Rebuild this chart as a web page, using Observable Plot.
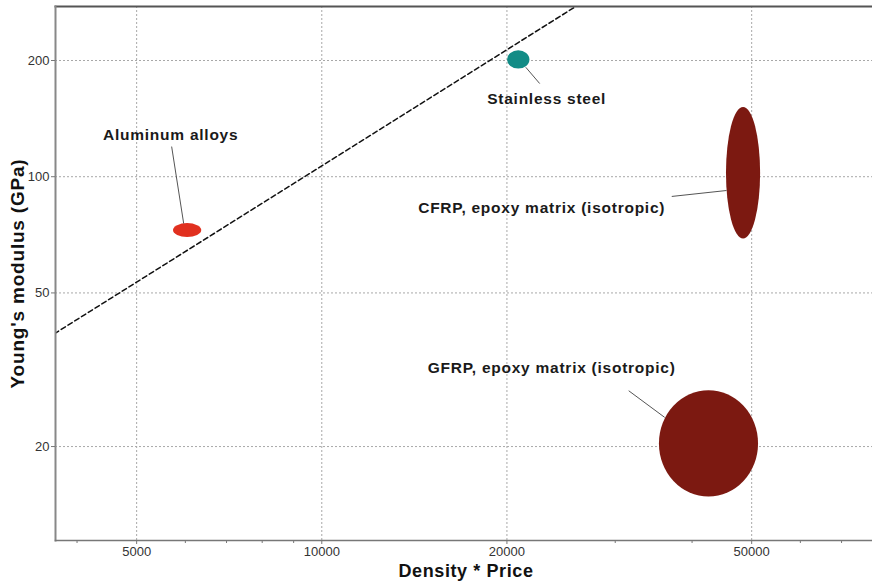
<!DOCTYPE html>
<html>
<head>
<meta charset="utf-8">
<script src="https://cdn.jsdelivr.net/npm/d3@7"></script>
<script src="https://cdn.jsdelivr.net/npm/@observablehq/plot@0.6"></script>
<style>
  html, body { margin: 0; padding: 0; background: #fff; }
</style>
</head>
<body>
<div id="chart"></div>
<script>
// Material property bubbles: ranges of density*price (x) and Young's modulus (y)
const materials = [
  "Aluminum alloys",
  "Stainless steel",
  "CFRP, epoxy matrix (isotropic)",
  "GFRP, epoxy matrix (isotropic)"
];
const densityPriceMin = [5740, 20050, 45500, 35400];
const densityPriceMax = [6380, 21800, 51700, 51300];
const modulusMin = [69.6, 190, 69, 14.8];
const modulusMax = [75.6, 212, 151, 27.9];
const materialColors = ["#e1301f", "#128c86", "#7c1911", "#7c1911"];

// Annotation anchors and leader lines, in data units
const labelX = [5680, 23210, 22780, 23650];
const labelY = [128, 159.4, 83.2, 32.0];
const leaderX1 = [5700, 22610, 37070, 31550];
const leaderY1 = [119.7, 174.3, 88.9, 27.9];
const leaderX2 = [5963, 21460, 45510, 36100];
const leaderY2 = [75.6, 192.1, 92.1, 23.8];

// Selection guideline: E = c * (density * price)
const guideX = [3000, 30000];
const guideY = [32, 320];

// Axis ticks
const xTicks = [5000, 10000, 20000, 50000];
const xMinorTicks = [4000, 6000, 7000, 8000, 9000, 30000, 40000, 60000, 70000];
const yTicks = [20, 50, 100, 200];

const rows = materials.map((name, i) => ({
  name,
  x1: densityPriceMin[i], x2: densityPriceMax[i],
  y1: modulusMin[i], y2: modulusMax[i],
  color: materialColors[i],
  lx: labelX[i], ly: labelY[i],
  ax: leaderX1[i], ay: leaderY1[i], bx: leaderX2[i], by: leaderY2[i]
}));
const guide = guideX.map((x, i) => ({x, y: guideY[i]}));

const font = "'Liberation Sans', Arial, Helvetica, sans-serif";

const chart = Plot.plot({
  width: 872,
  height: 584,
  marginLeft: 55,
  marginRight: 0,
  marginTop: 6,
  marginBottom: 44,
  style: {fontFamily: font, fontSize: "13px", color: "#333", background: "#fff"},
  x: {type: "log", domain: [3690, 78600]},
  y: {type: "log", domain: [11.42, 276]},
  marks: [
    Plot.gridX(xTicks, {stroke: "#a8a8a8", strokeOpacity: 1, strokeDasharray: "2,2"}),
    Plot.gridY(yTicks, {stroke: "#a8a8a8", strokeOpacity: 1, strokeDasharray: "2,2"}),
    Plot.line(guide, {x: "x", y: "y", stroke: "#111", strokeWidth: 1.5, strokeDasharray: "5,3", clip: true}),
    Plot.rect(rows, {x1: "x1", x2: "x2", y1: "y1", y2: "y2", fill: "color", rx: 10000, ry: 10000}),
    Plot.link(rows, {x1: "ax", y1: "ay", x2: "bx", y2: "by", stroke: "#555", strokeWidth: 1}),
    Plot.text(rows, {x: "lx", y: "ly", text: "name", fontWeight: "bold", fontSize: 15.5, fill: "#1a1a1a"}),
    Plot.frame({anchor: "top", stroke: "#555", strokeWidth: 2}),
    Plot.frame({anchor: "left", stroke: "#888", strokeWidth: 2}),
    Plot.frame({anchor: "bottom", stroke: "#777", strokeWidth: 1.5}),
    Plot.axisX(xMinorTicks, {tickSize: 3, text: null, label: null, stroke: "#777"}),
    Plot.axisX(xTicks, {tickSize: 4, tickPadding: 2, tickFormat: d3.format("d"), label: null, stroke: "#777", fill: "#333"}),
    Plot.axisY(yTicks, {tickSize: 4, tickPadding: 2, tickFormat: d3.format("d"), label: null, stroke: "#777", fill: "#333"}),
    Plot.text(["Density * Price"], {frameAnchor: "bottom", lineAnchor: "middle", dx: 2, dy: 31, fontWeight: "bold", fontSize: 18, fill: "#111"}),
    Plot.text(["Young's modulus (GPa)"], {frameAnchor: "left", textAnchor: "middle", lineAnchor: "middle", dx: -38, dy: 0, rotate: -90, fontWeight: "bold", fontSize: 19, fill: "#111"})
  ]
});

// Slightly wider tracking for the annotation and axis-title text
const textGroups = chart.querySelectorAll('g[aria-label="text"]');
const tracking = ["0.75px", "0.6px", "0.8px"];
textGroups.forEach((g, i) => g.setAttribute("letter-spacing", tracking[i] || "0px"));

document.getElementById("chart").appendChild(chart);
</script>
</body>
</html>
